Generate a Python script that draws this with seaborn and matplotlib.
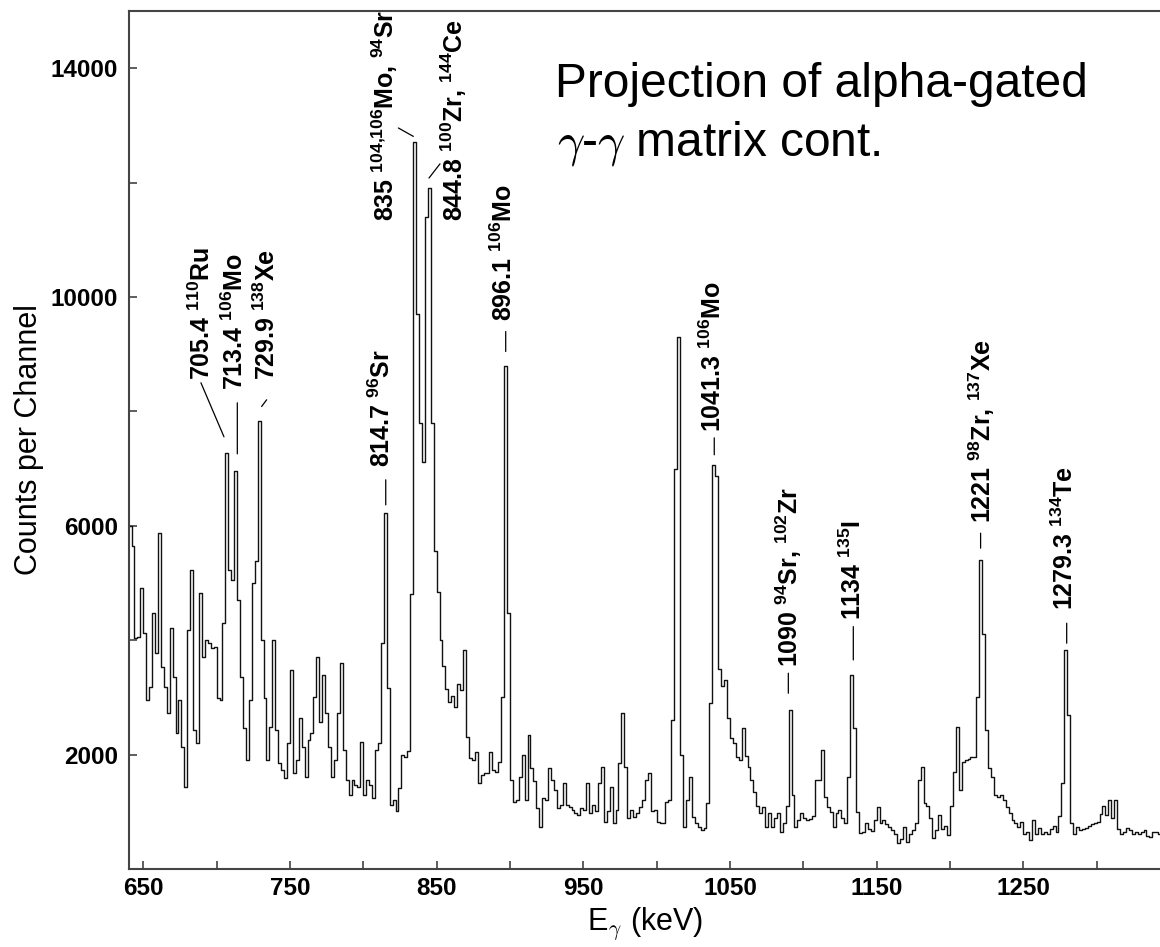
import numpy as np
import pandas as pd
import matplotlib
matplotlib.use("Agg")
import matplotlib.pyplot as plt
import seaborn as sns
from matplotlib.ticker import FixedLocator, NullFormatter

# ---------------- data ----------------
channel_start_keV = 640
channel_width_keV = 2
counts = [
    6000, 5650, 4035, 4064, 4909, 4120, 2956, 3190, 4472, 3772,   # 640
    5871, 3539, 3190, 2723, 4210, 3364, 2373, 2956, 2140, 1440,   # 660
    4181, 5230, 2432, 2198, 4822, 3714, 4006, 3947, 3860, 3889,   # 680
    2985, 2956, 4300, 7270, 5230, 5055, 6950, 4705, 3364, 2461,   # 700
    1907, 2956, 4997, 5380, 7824, 4000, 2985, 1907, 2490, 4006,   # 720
    2432, 1849, 1732, 1586, 2198, 3481, 1674, 1907, 2636, 2140,   # 740
    1615, 2257, 2373, 3015, 3714, 2577, 3394, 2723, 2140, 1615,   # 760
    1907, 2723, 3598, 2082, 1557, 1295, 1557, 1470, 1440, 2228,   # 780
    1295, 1557, 1470, 1236, 2082, 2198, 3947, 6221, 3160, 1120,   # 800
    1200, 1010, 1411, 1994, 1950, 2069, 4800, 12715, 9700, 7804,  # 820
    7124, 11400, 11911, 7800, 5562, 4836, 3995, 3552, 3152, 2911, # 840
    3031, 2840, 3232, 3131, 3834, 2309, 1948, 1907, 2053, 1499,   # 860
    1645, 1674, 1674, 2053, 1732, 1703, 1877, 3000, 8790, 4470,   # 880
    1557, 1178, 1207, 1615, 1994, 1207, 2344, 1772, 1539, 1073,   # 900
    741, 1236, 1207, 1761, 1557, 1382, 1061, 1120, 1499, 1120,    # 920
    1090, 1032, 974, 945, 1061, 1032, 1499, 974, 1120, 1015,      # 940
    1499, 1790, 828, 1015, 1440, 799, 1032, 1849, 2723, 1790,     # 960
    887, 1032, 915, 974, 1090, 1207, 1557, 1674, 1015, 1032,      # 980
    828, 800, 799, 1178, 1207, 2606, 7000, 9305, 2000, 741,       # 1000
    1207, 1615, 916, 800, 741, 683, 712, 1149, 2898, 7067,        # 1020
    6862, 3500, 3200, 3306, 2636, 2286, 2200, 1965, 1900, 2461,   # 1040
    1980, 1790, 1557, 1350, 1100, 974, 1090, 741, 974, 741,       # 1060
    900, 974, 650, 800, 1100, 2781, 1300, 740, 860, 974,          # 1080
    900, 850, 870, 930, 1557, 1557, 2082, 1266, 1090, 1000,       # 1100
    740, 974, 1032, 900, 800, 1600, 3393, 2461, 1000, 625,        # 1120
    650, 800, 700, 670, 860, 1091, 800, 850, 780, 740,            # 1140
    680, 620, 449, 520, 730, 470, 620, 680, 800, 1560,            # 1160
    1790, 1150, 1100, 900, 550, 680, 950, 700, 750, 600,          # 1180
    1100, 1700, 2490, 1382, 1870, 1900, 1930, 1960, 1965, 3000,   # 1200
    5405, 4100, 2432, 1761, 1600, 1300, 1260, 1290, 1200, 1090,   # 1220
    974, 860, 800, 741, 830, 620, 640, 507, 860, 620,             # 1240
    710, 620, 650, 620, 700, 750, 650, 920, 1500, 3820,           # 1260
    2694, 800, 620, 740, 680, 700, 720, 760, 780, 800,            # 1280
    830, 960, 1100, 950, 1207, 900, 1207, 700, 620, 640,          # 1300
    710, 680, 620, 650, 620, 650, 680, 580, 560, 650,             # 1320
    650, 620,                                                     # 1340
]

peak_labels = [
    "705.4 $^{110}$Ru",
    "713.4 $^{106}$Mo",
    "729.9 $^{138}$Xe",
    "814.7 $^{96}$Sr",
    "835 $^{104{,}106}$Mo, $^{94}$Sr",
    "844.8 $^{100}$Zr, $^{144}$Ce",
    "896.1 $^{106}$Mo",
    "1041.3 $^{106}$Mo",
    "1090 $^{94}$Sr, $^{102}$Zr",
    "1134 $^{135}$I",
    "1221 $^{98}$Zr, $^{137}$Xe",
    "1279.3 $^{134}$Te",
]
label_x_keV = [689.8, 712.5, 734.1, 812.5, 814.8, 861.4, 895.5, 1038.6, 1089.8, 1133.7, 1221.6, 1278.4]
label_y_counts = [8553, 8378, 8553, 7036, 11321, 11321, 9572, 7643, 3538, 4355, 6046, 4530]
leader_x0 = [689.3, 714.1, 734.1, 815.3, 823.9, 852.3, 897.1, 1039.3, 1089.8, 1134.1, 1220.9, 1279.6]
leader_y0 = [8500, 8150, 8203, 6804, 12955, 12328, 9397, 7538, 3423, 4238, 5871, 4297]
leader_x1 = [705.0, 714.1, 730.7, 815.3, 834.1, 844.8, 897.1, 1039.3, 1089.8, 1134.1, 1220.9, 1279.6]
leader_y1 = [7556, 7258, 8086, 6366, 12808, 12080, 9047, 7241, 3073, 3655, 5609, 3947]

x_major_ticks = [650, 750, 850, 950, 1050, 1150, 1250]
x_minor_ticks = [700, 800, 900, 1000, 1100, 1200, 1300]
y_major_ticks = [2000, 6000, 10000, 14000]
y_minor_ticks = [4000, 8000, 12000]

title_line1 = "Projection of alpha-gated"
title_line2 = r"$\gamma$-$\gamma$ matrix cont."
x_label = r"E$_{\gamma}$ (keV)"
y_label = "Counts per Channel"

# ---------------- style ----------------
sns.set_style("ticks")
plt.rcParams["font.family"] = ["Liberation Sans", "DejaVu Sans"]
plt.rcParams["mathtext.fontset"] = "custom"
plt.rcParams["mathtext.rm"] = "Liberation Sans:bold"
plt.rcParams["mathtext.it"] = "Liberation Sans:italic:bold"
plt.rcParams["mathtext.bf"] = "Liberation Sans:bold"
plt.rcParams["text.color"] = "black"
plt.rcParams["axes.labelcolor"] = "black"
plt.rcParams["xtick.color"] = "black"
plt.rcParams["ytick.color"] = "black"
plt.rcParams["xtick.labelcolor"] = "black"
plt.rcParams["ytick.labelcolor"] = "black"

n = len(counts)
edges = [float(channel_start_keV + channel_width_keV * i) for i in range(n + 1)]
centers = [e + channel_width_keV / 2 for e in edges[:-1]]
df = pd.DataFrame({"energy": centers, "counts": counts})

W, H = 1160, 947
fig = plt.figure(figsize=(W / 100, H / 100), dpi=100)
ax = fig.add_axes([129 / W, 78 / H, 1032 / W, 858 / H])

sns.histplot(data=df, x="energy", weights="counts", bins=edges,
             element="step", fill=False, color="#111111", linewidth=1.0, ax=ax)

ax.set_xlim(640.25, 1343.9)
ax.set_ylim(0, 15000)

ax.xaxis.set_major_locator(FixedLocator(x_major_ticks))
ax.xaxis.set_minor_locator(FixedLocator(x_minor_ticks))
ax.yaxis.set_major_locator(FixedLocator(y_major_ticks))
ax.yaxis.set_minor_locator(FixedLocator(y_minor_ticks))
ax.xaxis.set_minor_formatter(NullFormatter())
ax.yaxis.set_minor_formatter(NullFormatter())
ax.tick_params(which="both", direction="in", length=5.5, width=1.1, color="#333333",
               labelcolor="black")
ax.tick_params(axis="x", which="major", pad=6, labelsize=17.5)
ax.tick_params(axis="y", which="major", pad=8, labelsize=17.5)
for lab in ax.get_xticklabels() + ax.get_yticklabels():
    lab.set_fontweight("bold")
    lab.set_color("black")

for side in ["left", "top", "bottom"]:
    ax.spines[side].set_color("#444444")
    ax.spines[side].set_linewidth(1.5)
ax.spines["right"].set_visible(False)

ax.set_xlabel(x_label, fontsize=22, math_fontfamily="cm", color="black")
ax.xaxis.set_label_coords(0.5, -0.043)
ax.set_ylabel(y_label, fontsize=22, color="black")
ax.yaxis.set_label_coords(-0.082, 0.5)

for txt, tx, ty in zip(peak_labels, label_x_keV, label_y_counts):
    ax.text(tx, ty, txt, rotation=90, ha="center", va="bottom",
            fontsize=18, fontweight="bold", color="black")
for x0, y0, x1, y1 in zip(leader_x0, leader_y0, leader_x1, leader_y1):
    ax.annotate("", xy=(x1, y1), xytext=(x0, y0),
                arrowprops=dict(arrowstyle="-", lw=0.9, color="black",
                                shrinkA=0, shrinkB=0))

fig.text(555 / W, 1 - 97 / H, title_line1, fontsize=34.5, ha="left", va="baseline",
         color="black")
fig.text(557 / W, 1 - 155 / H, title_line2, fontsize=34.5, ha="left", va="baseline",
         math_fontfamily="cm", color="black")

fig.savefig("out.png", dpi=100)
